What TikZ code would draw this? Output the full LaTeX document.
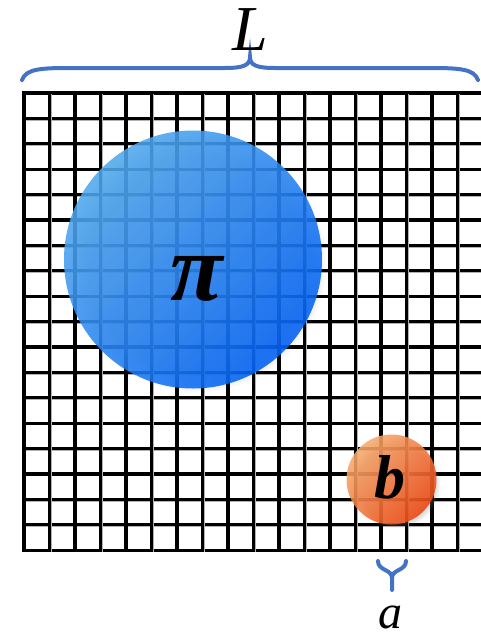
\documentclass[tikz,border=0pt]{standalone}
\usepackage{fontspec}
\setmainfont{Liberation Serif}
\usepackage{tikz}
\usetikzlibrary{shadows}

\begin{document}
\begin{tikzpicture}[x=1pt,y=-1pt,
  gridline/.style={line width=3.2pt,black,line cap=rect,
    preaction={draw,black!30,transform canvas={shift={(1.4pt,-1.4pt)}}}},
  bracestroke/.style={line width=4pt,cbrace,line cap=round},
  disk/.style={circle,inner sep=0pt,fill opacity=0.88,
    circular drop shadow={shadow xshift=4pt,shadow yshift=-4pt,shadow scale=1.0,opacity=0.35}}]
\definecolor{cbrace}{RGB}{68,114,196}
\definecolor{cbluelt}{RGB}{80,168,236}
\definecolor{cbluedk}{RGB}{0,96,245}
\definecolor{corangelt}{RGB}{246,170,108}
\definecolor{corangedk}{RGB}{238,70,15}
\useasboundingbox (0,0) rectangle (480,637);
% lattice rows
\draw[gridline] (24,93.0) -- (481,93.0);
\draw[gridline] (24,118.4) -- (481,118.4);
\draw[gridline] (24,143.8) -- (481,143.8);
\draw[gridline] (24,169.2) -- (481,169.2);
\draw[gridline] (24,194.6) -- (481,194.6);
\draw[gridline] (24,220.0) -- (481,220.0);
\draw[gridline] (24,245.4) -- (481,245.4);
\draw[gridline] (24,270.8) -- (481,270.8);
\draw[gridline] (24,296.2) -- (481,296.2);
\draw[gridline] (24,321.6) -- (481,321.6);
\draw[gridline] (24,347.0) -- (481,347.0);
\draw[gridline] (24,372.4) -- (481,372.4);
\draw[gridline] (24,397.8) -- (481,397.8);
\draw[gridline] (24,423.2) -- (481,423.2);
\draw[gridline] (24,448.6) -- (481,448.6);
\draw[gridline] (24,474.0) -- (481,474.0);
\draw[gridline] (24,499.4) -- (481,499.4);
\draw[gridline] (24,524.8) -- (481,524.8);
\draw[gridline] (24,550.2) -- (481,550.2);
% lattice columns
\draw[gridline] (24.0,93) -- (24.0,550.2);
\draw[gridline] (49.5,93) -- (49.5,550.2);
\draw[gridline] (75.0,93) -- (75.0,550.2);
\draw[gridline] (100.5,93) -- (100.5,550.2);
\draw[gridline] (126.0,93) -- (126.0,550.2);
\draw[gridline] (151.5,93) -- (151.5,550.2);
\draw[gridline] (177.0,93) -- (177.0,550.2);
\draw[gridline] (202.5,93) -- (202.5,550.2);
\draw[gridline] (228.0,93) -- (228.0,550.2);
\draw[gridline] (253.5,93) -- (253.5,550.2);
\draw[gridline] (279.0,93) -- (279.0,550.2);
\draw[gridline] (304.5,93) -- (304.5,550.2);
\draw[gridline] (330.0,93) -- (330.0,550.2);
\draw[gridline] (355.5,93) -- (355.5,550.2);
\draw[gridline] (381.0,93) -- (381.0,550.2);
\draw[gridline] (406.5,93) -- (406.5,550.2);
\draw[gridline] (432.0,93) -- (432.0,550.2);
\draw[gridline] (457.5,93) -- (457.5,550.2);
% particles
\node[disk,minimum size=258pt,top color=cbluelt,bottom color=cbluedk,shading angle=45] (bigdisk) at (193,259.5) {};
\node[disk,minimum size=90pt,top color=corangelt,bottom color=corangedk,shading angle=45] (smalldisk) at (391.5,479.5) {};
\node[font=\fontsize{96}{96}\selectfont\bfseries\itshape] (pisym) at (197,279) {π};
\node[font=\fontsize{62}{62}\selectfont\bfseries\itshape] (bsym) at (390,477) {b};
% braces
\draw[bracestroke] (22,80) .. controls (26,69) and (40,68) .. (70,68) -- (225,68)
  .. controls (244,68) and (250,65) .. (250,57)
  .. controls (250,65) and (256,68) .. (275,68) -- (430,68)
  .. controls (460,68) and (474,69) .. (478,80);
\draw[bracestroke] (378,561) .. controls (378,571) and (392,569) .. (392,578) -- (392,590);
\draw[bracestroke] (406,561) .. controls (406,571) and (392,569) .. (392,578);
\node[font=\fontsize{64}{64}\selectfont\itshape,anchor=base] (sizeL) at (250,50) {L};
\node[font=\fontsize{48}{48}\selectfont\itshape,anchor=base,inner sep=0pt] (spacinga) at (390,628) {a};
\end{tikzpicture}
\end{document}
